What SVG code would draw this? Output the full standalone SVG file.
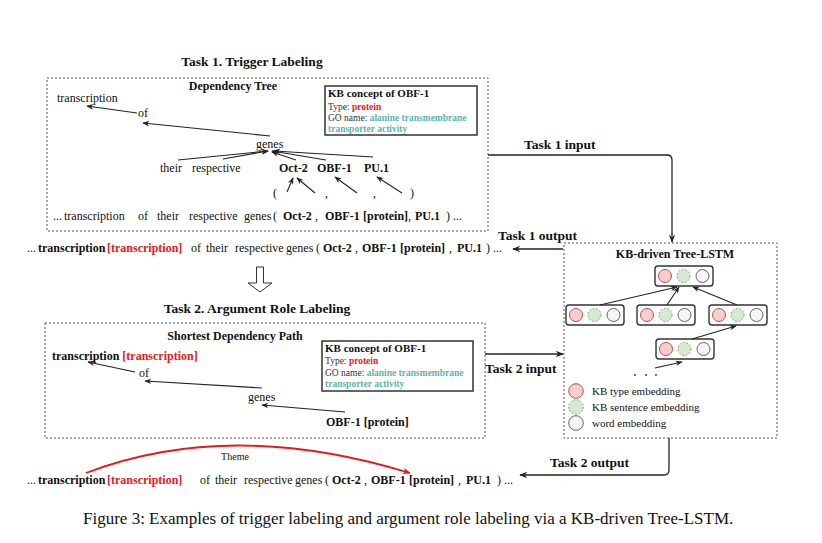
<svg xmlns="http://www.w3.org/2000/svg" xmlns:xlink="http://www.w3.org/1999/xlink" width="822" height="543" viewBox="0 0 822 543">
<style>
text{font-family:"Liberation Serif","Times New Roman",serif;fill:#111}
.b{font-weight:bold}
.red{fill:#e31a1c}
.teal{fill:#5fb3ad;font-weight:bold}
.gray{fill:#333}
.t12{font-size:12px}
.title{font-size:13.5px;font-weight:bold}
.kbt{font-size:11px;font-weight:bold}
.kbs{font-size:9.5px}
.dash{fill:none;stroke:#555;stroke-width:1;stroke-dasharray:2 2}
.kb{fill:#fff;stroke:#333;stroke-width:1.5}
.arr{fill:none;stroke:#222;stroke-width:1.1;marker-end:url(#ah)}
.big{fill:none;stroke:#222;stroke-width:1.3;marker-end:url(#ahb)}
.cellbox{fill:#fff;stroke:#333;stroke-width:1.4}
.cr{fill:#f8cecc;stroke:#b85450;stroke-width:1}
.cg{fill:#d5e8d4;stroke:#82b366;stroke-width:1;stroke-dasharray:2 1.5}
.cw{fill:#f5f5f5;stroke:#666;stroke-width:1}
.leg{font-size:11px}
</style>
<defs>
<marker id="ah" viewBox="0 0 10 10" refX="9" refY="5" markerUnits="userSpaceOnUse" markerWidth="7" markerHeight="7" orient="auto">
<path d="M0,1 L10,5 L0,9 L3,5 z" fill="#222"/>
</marker>
<marker id="ahb" viewBox="0 0 10 10" refX="9" refY="5" markerUnits="userSpaceOnUse" markerWidth="9" markerHeight="8" orient="auto">
<path d="M0,1 L10,5 L0,9 L3,5 z" fill="#222"/>
</marker>
<marker id="ahr" viewBox="0 0 10 10" refX="9" refY="5" markerUnits="userSpaceOnUse" markerWidth="9" markerHeight="8" orient="auto">
<path d="M0,1 L10,5 L0,9 L3,5 z" fill="#e31a1c"/>
</marker>
<g id="cell">
<rect x="0" y="0" width="58" height="20" rx="3" class="cellbox"/>
<circle cx="10" cy="10" r="6.5" class="cr"/>
<circle cx="28.5" cy="10" r="6.5" class="cg"/>
<circle cx="47.5" cy="10" r="6.5" class="cw"/>
</g>
</defs>
<rect width="822" height="543" fill="#fff"/>

<!-- Task 1 -->
<g id="task1-title"><text x="252" y="66" text-anchor="middle" class="title">Task 1. Trigger Labeling</text></g>
<g id="task1-box">
<rect x="47" y="78" width="441" height="153" class="dash"/>
<text x="233" y="90" text-anchor="middle" class="t12 b">Dependency Tree</text>
</g>
<g id="kb1">
<rect x="325" y="86" width="152" height="49" class="kb"/>
<text x="328" y="97" class="kbt">KB concept of OBF-1</text>
<text x="328" y="110" class="kbs"><tspan class="gray">Type: </tspan><tspan class="red b">protein</tspan></text>
<text x="328" y="121" class="kbs"><tspan class="gray">GO name: </tspan><tspan class="teal">alanine transmembrane</tspan></text>
<text x="328" y="132" class="kbs teal">transporter activity</text>
</g>
<g id="t1-transcription"><text x="57" y="102" class="t12">transcription</text></g>
<g id="t1-of"><text x="138" y="117" class="t12">of</text></g>
<g id="t1-genes"><text x="256" y="148" class="t12">genes</text></g>
<g id="t1-their"><text x="160" y="172" class="t12">their</text></g>
<g id="t1-respective"><text x="192" y="172" class="t12">respective</text></g>
<g id="t1-oct2"><text x="279" y="172" class="t12 b">Oct-2</text></g>
<g id="t1-obf1"><text x="317" y="172" class="t12 b">OBF-1</text></g>
<g id="t1-pu1"><text x="364" y="172" class="t12 b">PU.1</text></g>
<g id="t1-lparen"><text x="273" y="197" class="t12">(</text></g>
<g id="t1-comma1"><text x="325" y="197" class="t12">,</text></g>
<g id="t1-comma2"><text x="373" y="197" class="t12">,</text></g>
<g id="t1-rparen"><text x="410" y="197" class="t12">)</text></g>
<g id="t1-sentence"><text y="220" class="t12"><tspan x="53">...</tspan><tspan x="64">transcription</tspan><tspan x="138">of</tspan><tspan x="157">their</tspan><tspan x="189">respective</tspan><tspan x="244">genes</tspan><tspan x="273">(</tspan><tspan x="283" class="b">Oct-2</tspan><tspan x="315">,</tspan><tspan x="325" class="b">OBF-1</tspan><tspan x="363" class="b">[protein]</tspan><tspan>,</tspan><tspan x="415" class="b">PU.1</tspan><tspan x="446">)</tspan><tspan x="453">...</tspan></text></g>

<g id="t1-output-sentence"><text y="252" class="t12"><tspan x="27">...</tspan><tspan x="38" class="b">transcription</tspan><tspan x="107" class="b red">[transcription]</tspan><tspan x="191">of</tspan><tspan x="206">their</tspan><tspan x="235">respective</tspan><tspan x="286">genes</tspan><tspan x="316">(</tspan><tspan x="323" class="b">Oct-2</tspan><tspan x="355">,</tspan><tspan x="362" class="b">OBF-1</tspan><tspan x="400" class="b">[protein]</tspan><tspan x="449">,</tspan><tspan x="457" class="b">PU.1</tspan><tspan x="486">)</tspan><tspan x="493">...</tspan></text></g>

<g id="down-arrow"><path d="M256.5,267 H263.5 V283 H272 L260,292 L248,283 H256.5 Z" fill="#fff" stroke="#333" stroke-width="1"/></g>

<!-- Task 2 -->
<g id="task2-title"><text x="257" y="313" text-anchor="middle" class="title">Task 2. Argument Role Labeling</text></g>
<g id="task2-box">
<rect x="45" y="323" width="440" height="115" class="dash"/>
<text x="235" y="340" text-anchor="middle" class="t12 b">Shortest Dependency Path</text>
</g>
<g id="kb2">
<rect x="322" y="341" width="151" height="50" class="kb"/>
<text x="325" y="352" class="kbt">KB concept of OBF-1</text>
<text x="325" y="364" class="kbs"><tspan class="gray">Type: </tspan><tspan class="red b">protein</tspan></text>
<text x="325" y="376" class="kbs"><tspan class="gray">GO name: </tspan><tspan class="teal">alanine transmembrane</tspan></text>
<text x="325" y="387" class="kbs teal">transporter activity</text>
</g>
<g id="t2-transcription"><text x="52" y="360" class="t12 b">transcription <tspan class="red">[transcription]</tspan></text></g>
<g id="t2-of"><text x="139" y="377" class="t12">of</text></g>
<g id="t2-genes"><text x="248" y="401" class="t12">genes</text></g>
<g id="t2-obf1"><text x="326" y="426" class="t12 b">OBF-1 [protein]</text></g>

<g id="t2-output-sentence"><text y="484" class="t12"><tspan x="27">...</tspan><tspan x="38" class="b">transcription</tspan><tspan x="107" class="b red">[transcription]</tspan><tspan x="200">of</tspan><tspan x="215">their</tspan><tspan x="244">respective</tspan><tspan x="295">genes</tspan><tspan x="325">(</tspan><tspan x="332" class="b">Oct-2</tspan><tspan x="364">,</tspan><tspan x="371" class="b">OBF-1</tspan><tspan x="409" class="b">[protein]</tspan><tspan x="458">,</tspan><tspan x="466" class="b">PU.1</tspan><tspan x="497">)</tspan><tspan x="504">...</tspan></text></g>
<g id="theme-label"><text x="235" y="460" text-anchor="middle" style="font-size:10px">Theme</text></g>

<!-- LSTM -->
<g id="lstm">
<rect x="564" y="243" width="213" height="195" class="dash"/>
<text x="675" y="258" text-anchor="middle" class="t12 b">KB-driven Tree-LSTM</text>
<use xlink:href="#cell" href="#cell" x="655" y="266"/>
<use xlink:href="#cell" href="#cell" x="566" y="305"/>
<use xlink:href="#cell" href="#cell" x="637" y="305"/>
<use xlink:href="#cell" href="#cell" x="709" y="305"/>
<use xlink:href="#cell" href="#cell" x="656" y="339"/>
<circle cx="635" cy="375" r="0.9" fill="#333"/>
<circle cx="646" cy="375" r="0.9" fill="#333"/>
<circle cx="656" cy="375" r="0.9" fill="#333"/>
<circle cx="576" cy="391" r="7.3" class="cr"/>
<circle cx="576" cy="407" r="7.3" class="cg"/>
<circle cx="576" cy="423" r="7.3" class="cw"/>
<text x="592" y="395" class="leg">KB type embedding</text>
<text x="592" y="411" class="leg">KB sentence embedding</text>
<text x="592" y="427" class="leg">word embedding</text>
</g>

<g id="label-t1-input"><text x="524" y="149" class="title">Task 1 input</text></g>
<g id="label-t1-output"><text x="498" y="240" class="title">Task 1 output</text></g>
<g id="label-t2-input"><text x="485" y="373" class="title">Task 2 input</text></g>
<g id="label-t2-output"><text x="550" y="467" class="title">Task 2 output</text></g>

<g id="caption"><text x="83" y="524" style="font-size:17px">Figure 3: Examples of trigger labeling and argument role labeling via a KB-driven Tree-LSTM.</text></g>

<g id="connectors">
<!-- task 1 tree -->
<line x1="137" y1="113" x2="87" y2="106" class="arr"/>
<line x1="270" y1="136" x2="143" y2="123" class="arr"/>
<line x1="178" y1="160" x2="268" y2="151" class="arr"/>
<line x1="223" y1="159" x2="268" y2="151" class="arr"/>
<line x1="296" y1="160" x2="272" y2="152" class="arr"/>
<line x1="326" y1="160" x2="272" y2="151" class="arr"/>
<line x1="373" y1="157" x2="274" y2="151" class="arr"/>
<line x1="287" y1="192" x2="293" y2="178" class="arr"/>
<line x1="315" y1="193" x2="297" y2="178" class="arr"/>
<line x1="357" y1="193" x2="335" y2="177" class="arr"/>
<line x1="402" y1="193" x2="377" y2="177" class="arr"/>
<!-- task 2 path -->
<line x1="135" y1="372" x2="88" y2="362" class="arr"/>
<line x1="262" y1="388" x2="145" y2="381" class="arr"/>
<line x1="345" y1="412" x2="262" y2="405" class="arr"/>
<!-- theme arc -->
<path d="M86,473 Q230,418 410,473" fill="none" stroke="#e31a1c" stroke-width="1.8" marker-end="url(#ahr)"/>
<!-- lstm -->
<line x1="600" y1="305" x2="677" y2="287" class="arr"/>
<line x1="667" y1="305" x2="679" y2="287" class="arr"/>
<line x1="737" y1="305" x2="693" y2="287" class="arr"/>
<line x1="692" y1="339" x2="736" y2="326" class="arr"/>
<line x1="655" y1="368" x2="682" y2="362" class="arr"/>
<!-- task flows -->
<path d="M488,155 H667 Q672,155 672,160 V242" class="big"/>
<path d="M563,249 H513" class="big"/>
<path d="M485,354 H563" class="big"/>
<path d="M669,438 V470 Q669,475 664,475 H520" class="big"/>
</g>
</svg>
